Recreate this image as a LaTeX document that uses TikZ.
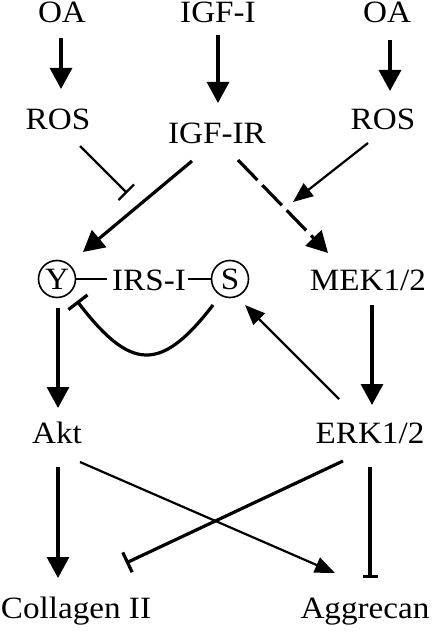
\documentclass[tikz,border=0pt]{standalone}
\usepackage{fontspec}
\setmainfont{Liberation Serif}[FakeStretch=1.07]
\usetikzlibrary{arrows.meta,calc}
\begin{document}
\begin{tikzpicture}[x=1bp,y=-1bp,
  lab/.style={font=\fontsize{31bp}{36bp}\selectfont, inner sep=0pt, anchor=base},
  site/.style={circle, draw, line width=1.6bp, minimum size=37bp, inner sep=0pt, font=\fontsize{31bp}{36bp}\selectfont},
  thk/.style={line width=3.2bp},
  thn/.style={line width=2.2bp},
  act/.style={-{Triangle[length=21bp,width=22bp]}},
  acts/.style={-{Triangle[length=20bp,width=16bp]}},
  inh/.style={-{Bar[width=#1]}},
  link/.style={line width=1.6bp}
]
\useasboundingbox (0,0) rectangle (432,633);
% nodes
\node[lab] (oa1) at (62,23) {OA};
\node[lab] (igf) at (218,23) {IGF-I};
\node[lab] (oa2) at (387,23) {OA};
\node[lab] (ros1) at (58,130) {ROS};
\node[lab] (igfr) at (217,144) {IGF-IR};
\node[lab] (ros2) at (383,130) {ROS};
\node[site] (Y) at (57,279) {Y};
\node[lab] (irs) at (149,290) {IRS-I};
\node[site] (S) at (230,279) {S};
\node[lab] (mek) at (368,290) {MEK1/2};
\node[lab] (akt) at (57,443) {Akt};
\node[lab] (erk) at (370,443) {ERK1/2};
\node[lab] (col) at (76,618) {Collagen II};
\node[lab] (agg) at (365,618) {Aggrecan};
\coordinate (j1) at (127,193);
\coordinate (j2) at (293,202);
% top arrows
\draw[thk,act] ($(oa1.base)+(-1,15)$) -- ($(ros1.base)+(3,-41)$);
\draw[thk,act] ($(igf.base)+(0,12)$) -- ($(igfr.base)+(1,-41)$);
\draw[thk,act] ($(oa2.base)+(3,17)$) -- ($(ros2.base)+(7,-39)$);
% ROS inhibition and activation
\draw[thn,inh=22bp] ($(ros1.base)+(22,16)$) -- (j1);
\draw[thn,acts] ($(ros2.base)+(-15,13)$) -- (j2);
% IGF-IR outputs
\draw[thk,act] ($(igfr.base)+(-25,17)$) -- ($(Y.center)+(26,-27)$);
\draw[thk,act,dash pattern=on 28bp off 7bp] ($(igfr.base)+(21,16)$) -- ($(mek.base)+(-40,-37)$);
% IRS-I links
\draw[link] (Y.east) -- ($(irs.base)+(-42,-11)$);
\draw[link] ($(irs.base)+(39,-11)$) -- (S.west);
% feedback curve from S back to Y
\draw[thk,inh=24bp] ($(S.center)+(-17,26)$) .. controls (160,374) and (130,370) .. ($(Y.center)+(20,22)$);
% ERK -> S
\draw[thn,acts] ($(erk.base)+(-31,-44)$) -- ($(S.center)+(15,26)$);
% MEK -> ERK
\draw[thk,act] ($(mek.base)+(4,15)$) -- ($(erk.base)+(2,-38)$);
% Y -> Akt
\draw[thk,act] ($(Y.center)+(1,29)$) -- ($(akt.base)+(1,-35)$);
% bottom
\draw[thk,act] ($(akt.base)+(1,24)$) -- ($(col.base)+(-18,-40)$);
\draw[thn,acts] ($(akt.base)+(23,19)$) -- ($(agg.base)+(-30,-45)$);
\draw[thk,inh=22bp] ($(erk.base)+(-27,18)$) -- ($(col.base)+(50,-55)$);
\draw[thk,inh=15bp] ($(erk.base)+(0,24)$) -- ($(agg.base)+(5,-40)$);
\end{tikzpicture}
\end{document}
